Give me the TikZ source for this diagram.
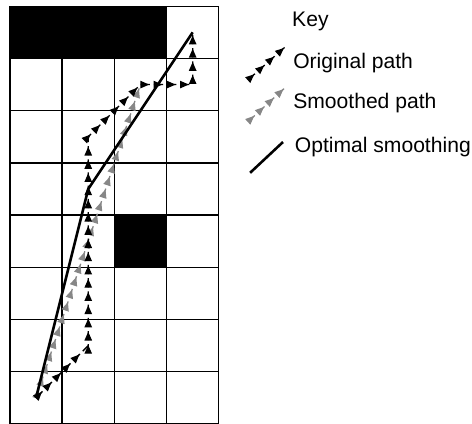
\documentclass[tikz,border=0pt]{standalone}
\usepackage{fontspec}
\setmainfont{Liberation Sans}
\usetikzlibrary{arrows.meta,decorations.markings}
\definecolor{trailGray}{RGB}{135,135,135}
\tikzset{
  trail/.style={line width=0.7pt,dash pattern=on 5pt off 2.2pt,
    decoration={markings,mark=between positions 4.6pt and 1 step 7.2pt with {\arrow{Triangle[length=4.8pt,width=4pt]}}},
    postaction={decorate}},
  origtrail/.style={trail,draw=black},
  smoothtrail/.style={trail,draw=trailGray},
  optline/.style={line width=1.4pt},
  keylabel/.style={anchor=west,inner sep=0pt,font=\fontsize{11.5}{13}\selectfont}
}
\begin{document}
\begin{tikzpicture}
\useasboundingbox (-0.19,0) rectangle (8.85,8.12);
\fill (0,7) rectangle (3,8);
\fill (2,3) rectangle (3,4);
\draw[line width=0.8pt] (0,0) grid (4,8);
\coordinate (start) at (0.5,0.5);
\coordinate (turnA) at (1.5,1.5);
\coordinate (turnB) at (1.5,5.5);
\coordinate (turnC) at (2.5,6.5);
\coordinate (turnD) at (3.5,6.5);
\coordinate (goal) at (3.5,7.5);
\coordinate (bend) at (1.5,4.5);
\draw[smoothtrail] (start) -- (turnC);
\draw[origtrail] (start) -- (turnA) -- (turnB) -- (turnC) -- (turnD) -- (goal);
\draw[optline] (start) -- (bend) -- (goal);
\node[keylabel] (key) at (5.4,7.70) {Key};
\node[keylabel] (origtext) at (5.42,6.92) {Original path};
\node[keylabel] (smoothtext) at (5.42,6.15) {Smoothed path};
\node[keylabel] (opttext) at (5.45,5.31) {Optimal smoothing};
\coordinate (origA) at (4.56,6.59);
\coordinate (origB) at (5.27,7.22);
\coordinate (smoothA) at (4.56,5.79);
\coordinate (smoothB) at (5.27,6.44);
\coordinate (optA) at (4.60,4.81);
\coordinate (optB) at (5.23,5.40);
\draw[origtrail] (origA) -- (origB);
\draw[smoothtrail] (smoothA) -- (smoothB);
\draw[optline] (optA) -- (optB);
\end{tikzpicture}
\end{document}
